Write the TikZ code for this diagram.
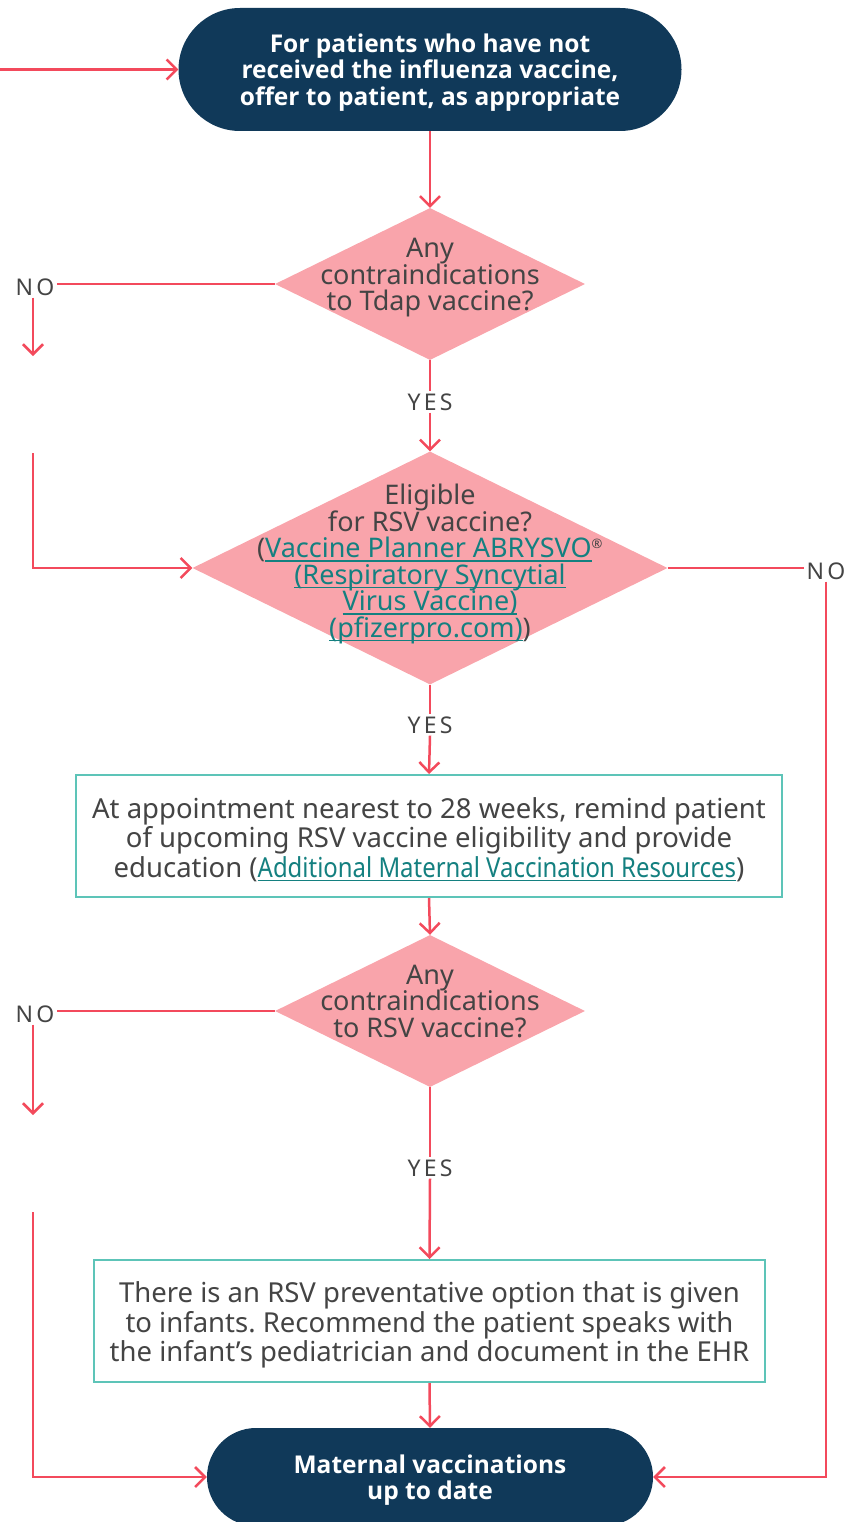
\documentclass[tikz,border=0pt]{standalone}
\usepackage{fontspec}
\setmainfont{Noto Sans}
\newfontfamily\labelfont[LetterSpace=14]{Noto Sans}
\newfontfamily\termfont{Open Sans}
\usepackage{graphicx}
\usepackage{xcolor}
\definecolor{navy}{RGB}{16,57,89}
\definecolor{flowred}{RGB}{243,74,92}
\definecolor{diapink}{RGB}{249,164,171}
\definecolor{boxteal}{RGB}{93,196,184}
\definecolor{linkteal}{RGB}{20,128,128}
\definecolor{bodygray}{RGB}{68,68,68}
\usetikzlibrary{shapes.geometric,shapes.misc,arrows.meta,positioning}
\frenchspacing
\newsavebox\lnkbox
\newcommand{\lnk}[1]{{\color{linkteal}\sbox\lnkbox{#1}\rlap{\usebox\lnkbox}\rule[-4pt]{\wd\lnkbox}{1.5pt}}}
\newcommand{\tightlines}{\lineskiplimit=-50pt\relax}
\tikzset{
  terminal/.style={
    rounded rectangle,
    fill=navy,
    text=white,
    font=\termfont\bfseries\fontsize{24.5}{26.5}\selectfont,
    align=center,
    inner sep=0pt
  },
  decision/.style={
    diamond,
    fill=diapink,
    inner sep=0pt
  },
  qtext/.style={
    text=bodygray,
    font=\fontsize{27}{26.5}\selectfont\tightlines,
    align=center
  },
  action/.style={
    draw=boxteal,
    line width=2pt,
    fill=white,
    text=bodygray,
    font=\fontsize{27.5}{29.5}\selectfont,
    align=center
  },
  answer/.style={
    text=bodygray,
    font=\labelfont\fontsize{23}{24}\selectfont,
    inner sep=2pt
  },
  branch/.style={
    draw=flowred,
    line width=2.5pt
  },
  flow/.style={
    branch,
    -{Straight Barb[length=10pt,width=20pt]}
  },
}

\begin{document}
\begin{tikzpicture}[x=1pt,y=-1pt]

  \def\XMID{430}
  \def\XLEFT{33}
  \def\XRIGHT{826}

  \useasboundingbox (0,0) rectangle (850,1522);

  % terminals
  \node[terminal, minimum width=503pt, minimum height=123pt] (flu) at (\XMID,69.5) {};
  \node[terminal] (flutxt) at (\XMID,72.5)
    {For patients who have not\\received the influenza vaccine,\\offer to patient, as appropriate};
  \node[terminal, minimum width=446pt, minimum height=98pt] (done) at (\XMID,1477) {};
  \node[terminal] (donetxt) at (\XMID,1480) {Maternal vaccinations\\up to date};

  % decisions
  \node[decision, minimum width=310pt, minimum height=152pt] (tdap) at (\XMID,284) {};
  \node[qtext] (tdaptxt) at (\XMID,278) {Any\\contraindications\\to Tdap vaccine?};

  \node[decision, minimum width=475pt, minimum height=233pt] (rsv) at (\XMID,568) {};
  \node[qtext] (rsvtxt) at (\XMID,564)
    {Eligible\\for RSV vaccine?\\(\lnk{Vaccine Planner ABRYSVO}\textsuperscript{\fontsize{13}{13}\selectfont ®}\\\lnk{(Respiratory Syncytial}\\\lnk{Virus Vaccine)}\\\lnk{(pfizerpro.com)})};

  \node[decision, minimum width=310pt, minimum height=152pt] (contra) at (\XMID,1011) {};
  \node[qtext] (contratxt) at (\XMID,1001) {Any\\contraindications\\to RSV vaccine?};

  % actions
  \node[action, minimum width=706pt, minimum height=122pt] (remind) at (429,836) {};
  \node[action, draw=none, fill=none] (remindtxt) at (429,839.5)
    {At appointment nearest to 28 weeks, remind patient\\of upcoming RSV vaccine eligibility and provide\\education (\lnk{\scalebox{0.87}[1]{Additional Maternal Vaccination Resources}})};
  \node[action, minimum width=671pt, minimum height=122pt] (infant) at (429.5,1321) {};
  \node[action, draw=none, fill=none] (infanttxt) at (429.5,1325)
    {There is an RSV preventative option that is given\\to infants. Recommend the patient speaks with\\the infant’s pediatrician and document in the EHR};

  % answers
  \node[answer] (noA) at (35,287) {NO};
  \node[answer] (yesA) at (\XMID,402) {YES};
  \node[answer] (noB) at (\XRIGHT,571) {NO};
  \node[answer] (yesB) at (\XMID,725) {YES};
  \node[answer] (noC) at (35,1014) {NO};
  \node[answer] (yesC) at (\XMID,1168) {YES};

  % free ends
  \coordinate (entry) at (0,69.5);
  \coordinate (tipA) at (\XLEFT,356);
  \coordinate (backA) at (\XLEFT,453);
  \coordinate (tipC) at (\XLEFT,1115);
  \coordinate (backC) at (\XLEFT,1212);

  % connectors
  \draw[flow] (entry) -- (flu.west);
  \draw[flow] (flu.south) -- (tdap.north);
  \draw[branch] (tdap.west) -- (tdap.west -| noA.east);
  \draw[flow] (noA.south -| tipA) -- (tipA);
  \draw[branch] (tdap.south) -- (yesA.north);
  \draw[flow] (yesA.south) -- (rsv.north);
  \draw[flow] (backA) |- (rsv.west);
  \draw[branch] (rsv.east) -- (rsv.east -| noB.west);
  \draw[flow] (noB.south) |- (done.east);
  \draw[branch] (rsv.south) -- (yesB.north);
  \draw[flow] (yesB.south) -- (remind.north);
  \draw[flow] (remind.south) -- (contra.north);
  \draw[branch] (contra.west) -- (contra.west -| noC.east);
  \draw[flow] (noC.south -| tipC) -- (tipC);
  \draw[branch] (contra.south) -- (yesC.north);
  \draw[flow] (yesC.south) -- (infant.north);
  \draw[flow] (infant.south) -- (done.north);
  \draw[flow] (backC) |- (done.west);

\end{tikzpicture}
\end{document}
